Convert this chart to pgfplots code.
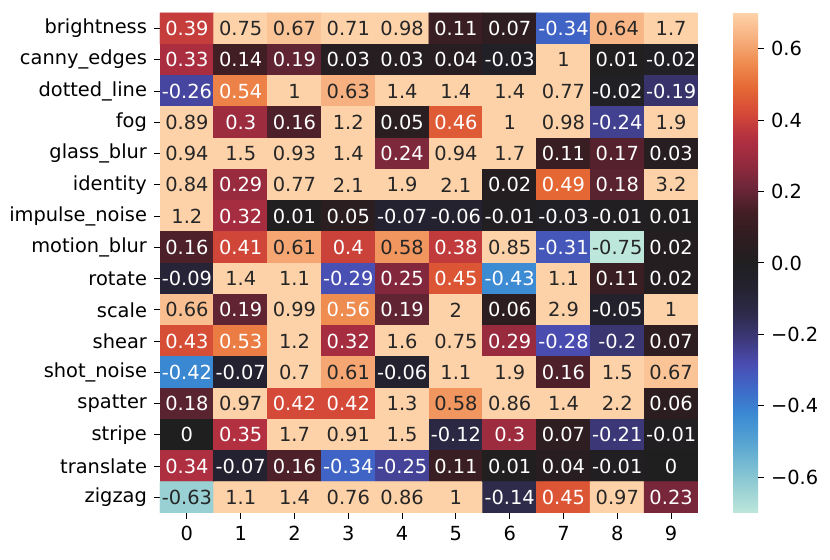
\documentclass[border=0pt]{standalone}
\usepackage{pgfplots}
\pgfplotsset{compat=1.18}
\usepackage{fontspec}
\setmainfont{DejaVu Sans}
\definecolor{txtdark}{HTML}{262626}
\pgfplotsset{colormap={icefire}{
rgb255=(189,231,219) rgb255=(153,208,212) rgb255=(115,185,210) rgb255=(82,160,210)
rgb255=(58,136,210) rgb255=(62,104,200) rgb255=(74,76,176) rgb255=(60,56,120)
rgb255=(45,42,74) rgb255=(36,34,48) rgb255=(32,31,32) rgb255=(46,29,33)
rgb255=(65,30,36) rgb255=(108,38,57) rgb255=(148,42,62) rgb255=(178,48,64)
rgb255=(213,73,56) rgb255=(229,104,52) rgb255=(239,140,80) rgb255=(247,176,127)
rgb255=(254,210,168)}}
% d = 1: dark annotation text, d = 0: white annotation text
\pgfplotstableread{
x y v d
0 0 0.39 0
1 0 0.75 1
2 0 0.67 1
3 0 0.71 1
4 0 0.98 1
5 0 0.11 0
6 0 0.07 0
7 0 -0.34 0
8 0 0.64 1
9 0 1.7 1
0 1 0.33 0
1 1 0.14 0
2 1 0.19 0
3 1 0.03 0
4 1 0.03 0
5 1 0.04 0
6 1 -0.03 0
7 1 1 1
8 1 0.01 0
9 1 -0.02 0
0 2 -0.26 0
1 2 0.54 0
2 2 1 1
3 2 0.63 1
4 2 1.4 1
5 2 1.4 1
6 2 1.4 1
7 2 0.77 1
8 2 -0.02 0
9 2 -0.19 0
0 3 0.89 1
1 3 0.3 0
2 3 0.16 0
3 3 1.2 1
4 3 0.05 0
5 3 0.46 0
6 3 1 1
7 3 0.98 1
8 3 -0.24 0
9 3 1.9 1
0 4 0.94 1
1 4 1.5 1
2 4 0.93 1
3 4 1.4 1
4 4 0.24 0
5 4 0.94 1
6 4 1.7 1
7 4 0.11 0
8 4 0.17 0
9 4 0.03 0
0 5 0.84 1
1 5 0.29 0
2 5 0.77 1
3 5 2.1 1
4 5 1.9 1
5 5 2.1 1
6 5 0.02 0
7 5 0.49 0
8 5 0.18 0
9 5 3.2 1
0 6 1.2 1
1 6 0.32 0
2 6 0.01 0
3 6 0.05 0
4 6 -0.07 0
5 6 -0.06 0
6 6 -0.01 0
7 6 -0.03 0
8 6 -0.01 0
9 6 0.01 0
0 7 0.16 0
1 7 0.41 0
2 7 0.61 1
3 7 0.4 0
4 7 0.58 1
5 7 0.38 0
6 7 0.85 1
7 7 -0.31 0
8 7 -0.75 1
9 7 0.02 0
0 8 -0.09 0
1 8 1.4 1
2 8 1.1 1
3 8 -0.29 0
4 8 0.25 0
5 8 0.45 0
6 8 -0.43 0
7 8 1.1 1
8 8 0.11 0
9 8 0.02 0
0 9 0.66 1
1 9 0.19 0
2 9 0.99 1
3 9 0.56 0
4 9 0.19 0
5 9 2 1
6 9 0.06 0
7 9 2.9 1
8 9 -0.05 0
9 9 1 1
0 10 0.43 0
1 10 0.53 0
2 10 1.2 1
3 10 0.32 0
4 10 1.6 1
5 10 0.75 1
6 10 0.29 0
7 10 -0.28 0
8 10 -0.2 0
9 10 0.07 0
0 11 -0.42 0
1 11 -0.07 0
2 11 0.7 1
3 11 0.61 1
4 11 -0.06 0
5 11 1.1 1
6 11 1.9 1
7 11 0.16 0
8 11 1.5 1
9 11 0.67 1
0 12 0.18 0
1 12 0.97 1
2 12 0.42 0
3 12 0.42 0
4 12 1.3 1
5 12 0.58 1
6 12 0.86 1
7 12 1.4 1
8 12 2.2 1
9 12 0.06 0
0 13 0 0
1 13 0.35 0
2 13 1.7 1
3 13 0.91 1
4 13 1.5 1
5 13 -0.12 0
6 13 0.3 0
7 13 0.07 0
8 13 -0.21 0
9 13 -0.01 0
0 14 0.34 0
1 14 -0.07 0
2 14 0.16 0
3 14 -0.34 0
4 14 -0.25 0
5 14 0.11 0
6 14 0.01 0
7 14 0.04 0
8 14 -0.01 0
9 14 0 0
0 15 -0.63 1
1 15 1.1 1
2 15 1.4 1
3 15 0.76 1
4 15 0.86 1
5 15 1 1
6 15 -0.14 0
7 15 0.45 0
8 15 0.97 1
9 15 0.23 0
}\heat
\begin{document}
\begin{tikzpicture}
\path[use as bounding box] (-80pt,-23.5pt) rectangle (335pt,256.5pt);
\begin{axis}[
  at={(0,0)}, anchor=south west,
  scale only axis, width=269pt, height=250pt,
  xmin=-0.5, xmax=9.5, ymin=-0.5, ymax=15.5,
  y dir=reverse,
  axis line style={draw=none},
  tick align=outside, major tick length=3pt,
  tick style={black, line width=0.5pt},
  xtick={0,...,9}, xticklabels={0,1,2,3,4,5,6,7,8,9},
  ytick={0,...,15},
  yticklabels={brightness,canny\_edges,dotted\_line,fog,glass\_blur,identity,impulse\_noise,motion\_blur,rotate,scale,shear,shot\_noise,spatter,stripe,translate,zigzag},
  xtick pos=bottom, ytick pos=left,
  tick label style={font=\fontsize{9.7}{11}\selectfont},
  colormap name=icefire,
  point meta min=-0.7, point meta max=0.7,
  colorbar,
  colorbar style={
    at={(parent axis.north east)}, anchor=north west, xshift=9pt,
    scale only axis, width=12.5pt, height=250pt,
    axis line style={draw=none},
    ytick={-0.6,-0.4,-0.2,0,0.2,0.4,0.6},
    yticklabels={−0.6,−0.4,−0.2,0.0,0.2,0.4,0.6},
    tick align=outside, major tick length=3pt,
    tick style={black, line width=0.5pt},
    yticklabel pos=right, ytick pos=right,
    yticklabel style={anchor=west, font=\fontsize{9.7}{11}\selectfont},
  },
]
\addplot[matrix plot*, mesh/cols=10, point meta=explicit] table[x=x, y=y, meta=v] {\heat};
\addplot[draw=none, mark=none,
  restrict expr to domain={\thisrow{d}}{0.5:1.5},
  point meta=explicit symbolic,
  nodes near coords,
  nodes near coords align=center,
  every node near coord/.append style={anchor=center, inner sep=0pt, text=txtdark, font=\fontsize{9.7}{11}\selectfont},
] table[x=x, y=y, meta=v] {\heat};
\addplot[draw=none, mark=none,
  restrict expr to domain={\thisrow{d}}{-0.5:0.5},
  point meta=explicit symbolic,
  nodes near coords,
  nodes near coords align=center,
  every node near coord/.append style={anchor=center, inner sep=0pt, text=white, font=\fontsize{9.7}{11}\selectfont},
] table[x=x, y=y, meta=v] {\heat};
\end{axis}
\end{tikzpicture}
\end{document}
